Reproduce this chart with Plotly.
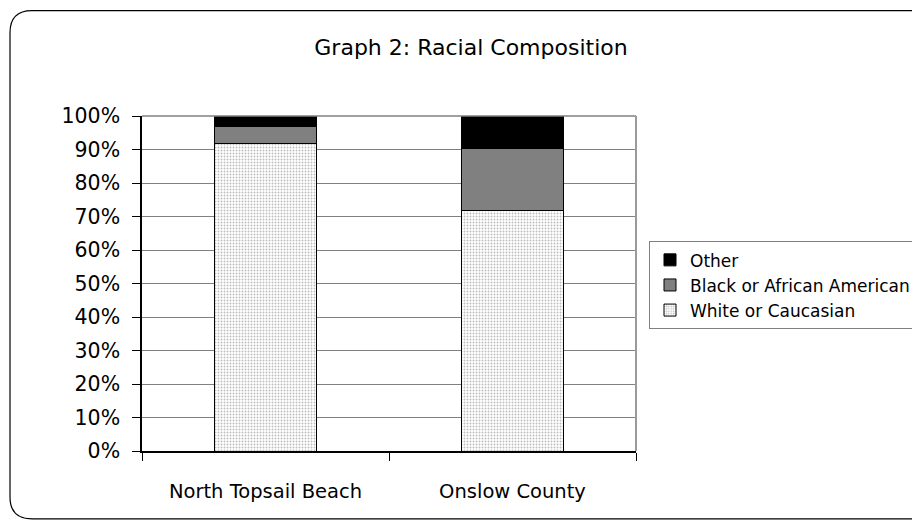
import plotly.graph_objects as go

categories = ["North Topsail Beach", "Onslow County"]
white = [91.7, 71.8]
black = [5.2, 18.6]
other = [3.1, 9.6]
series_names = ["White or Caucasian", "Black or African American", "Other"]
tick_vals = [0, 10, 20, 30, 40, 50, 60, 70, 80, 90, 100]
tick_text = [f"{v}%" for v in tick_vals]

W, H = 920, 524
OFF = 8  # page body offset
L, R, T, B = 142 - OFF, 636 - OFF, 115.5 - OFF, 451 - OFF
pw, ph = R - L, B - T

def px(x):
    return (x - OFF - L) / pw

def py(y):
    return (B - (y - OFF)) / ph

FONT = "DejaVu Sans"

fig = go.Figure()
fig.add_trace(go.Bar(
    x=categories, y=white, name=series_names[0],
    marker=dict(color="white", line=dict(color="black", width=1),
                pattern=dict(shape=".", fgcolor="#7a7a7a", bgcolor="white", size=3, solidity=0.3)),
))
fig.add_trace(go.Bar(
    x=categories, y=black, name=series_names[1],
    marker=dict(color="#808080", line=dict(color="black", width=1)),
))
fig.add_trace(go.Bar(
    x=categories, y=other, name=series_names[2],
    marker=dict(color="#000000", line=dict(color="black", width=1)),
))

# rounded outer border (screen pixels converted to paper coords)
x0, x1, y0, y1, r = 10, 940, 10, 519, 22
path = (f"M {px(x0+r)},{py(y0)} L {px(x1-r)},{py(y0)} Q {px(x1)},{py(y0)} {px(x1)},{py(y0+r)} "
        f"L {px(x1)},{py(y1-r)} Q {px(x1)},{py(y1)} {px(x1-r)},{py(y1)} "
        f"L {px(x0+r)},{py(y1)} Q {px(x0)},{py(y1)} {px(x0)},{py(y1-r)} "
        f"L {px(x0)},{py(y0+r)} Q {px(x0)},{py(y0)} {px(x0+r)},{py(y0)} Z")

shapes = [
    dict(type="path", xref="paper", yref="paper", path=path,
         line=dict(color="black", width=1.2), layer="below"),
    dict(type="line", xref="paper", yref="paper", x0=0, x1=1, y0=1, y1=1,
         line=dict(color="#808080", width=1.5), layer="above"),
    dict(type="line", xref="paper", yref="paper", x0=1, x1=1, y0=0, y1=1,
         line=dict(color="#9a9a9a", width=2), layer="above"),
]

fig.update_layout(
    width=W, height=H,
    margin=dict(l=L, r=W - R, t=T, b=H - B, autoexpand=False),
    paper_bgcolor="white", plot_bgcolor="white",
    barmode="stack", bargap=0.59,
    font=dict(family=FONT, color="black", size=20),
    title=dict(text="Graph 2: Racial Composition", xref="container", x=(471 - OFF) / W,
               xanchor="center", yref="container", y=1 - (47 - OFF) / H, yanchor="middle",
               font=dict(family=FONT, size=22)),
    xaxis=dict(range=[-0.5, 1.5], showline=True, linecolor="black", linewidth=1.5,
               ticks="outside", tickson="boundaries", ticklen=8, tickcolor="black",
               tickfont=dict(size=19.5), showgrid=False, ticklabelstandoff=22),
    yaxis=dict(range=[0, 100], tickvals=tick_vals, ticktext=tick_text,
               showline=True, linecolor="black", linewidth=1.5,
               ticks="outside", ticklen=8, tickcolor="black",
               showgrid=True, gridcolor="#808080", gridwidth=1,
               tickfont=dict(size=20.5), zeroline=False, ticklabelstandoff=8),
    legend=dict(x=px(649), xanchor="left", y=py(241), yanchor="top",
                bordercolor="#808080", borderwidth=1, bgcolor="white",
                font=dict(family=FONT, size=17), traceorder="reversed",
                itemwidth=30, tracegroupgap=0),
    shapes=shapes,
    showlegend=True,
)

fig.write_html("out.html")
